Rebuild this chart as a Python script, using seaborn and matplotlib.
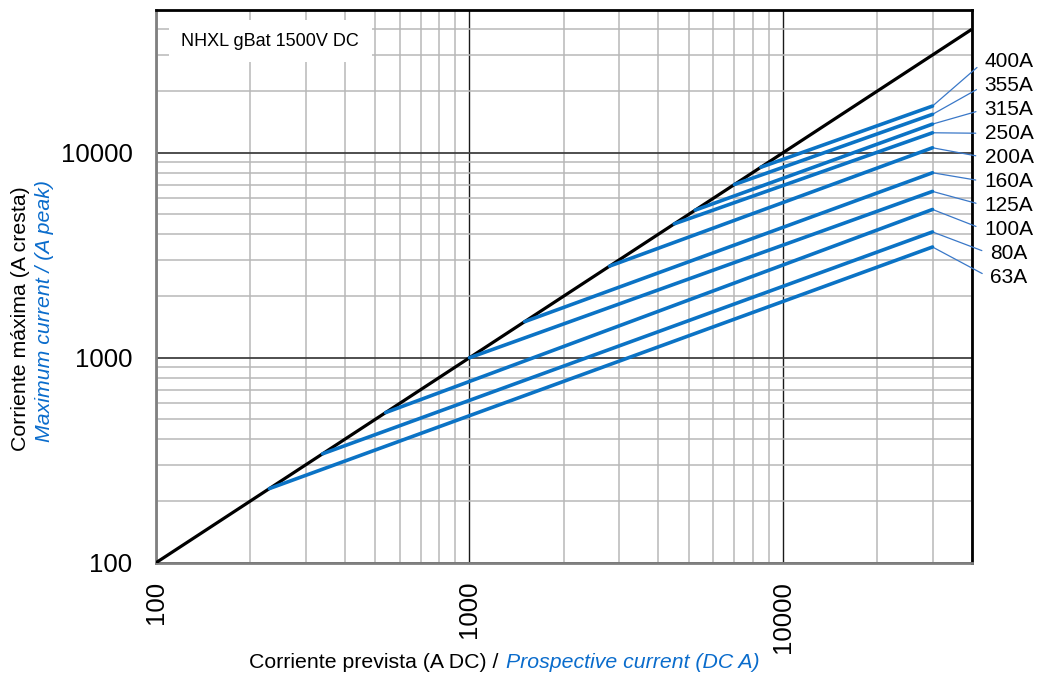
import matplotlib
matplotlib.use("Agg")
import matplotlib.pyplot as plt
import matplotlib.ticker as mticker
import pandas as pd
import seaborn as sns

sns.set_style("white")
plt.rcParams["font.family"] = ["Liberation Sans", "DejaVu Sans"]

# fuse ratings, curve start on the diagonal and cut-off peak at 30 kA
ratings = ["63A", "80A", "100A", "125A", "160A", "200A", "250A", "315A", "355A", "400A"]
start_current = [230, 340, 540, 1000, 1500, 2800, 4500, 5250, 7000, 8500]
end_current = [30000] * 10
end_peak = [3470, 4110, 5290, 6480, 7990, 10580, 12520, 13800, 15400, 16900]

diag_x = [100, 40000]
diag_y = [100, 40000]

major_ticks = [100, 1000, 10000]
title_text = "NHXL gBat 1500V DC"

BLUE = "#0b73c5"
TXT_BLUE = "#0a6ccc"

rows = []
for r, s, e, p in zip(ratings, start_current, end_current, end_peak):
    rows.append({"fuse": r, "prospective": s, "peak": s})
    rows.append({"fuse": r, "prospective": e, "peak": p})
df = pd.DataFrame(rows)

fig = plt.figure(figsize=(10.4, 6.84), dpi=100)
ax = fig.add_axes([0.15, 0.1773, 0.7843, 0.8088])
ax.set_xscale("log")
ax.set_yscale("log")
ax.set_xlim(100, 40000)
ax.set_ylim(100, 50000)

ax.plot(diag_x, diag_y, color="black", lw=2.3, solid_capstyle="butt", zorder=3)
sns.lineplot(data=df, x="prospective", y="peak", units="fuse", estimator=None,
             color=BLUE, lw=2.6, ax=ax, zorder=4, legend=False)

ax.xaxis.set_major_locator(mticker.FixedLocator(major_ticks))
ax.yaxis.set_major_locator(mticker.FixedLocator(major_ticks))
fmt = mticker.FuncFormatter(lambda v, _: f"{int(round(v))}")
ax.xaxis.set_major_formatter(fmt)
ax.yaxis.set_major_formatter(fmt)
ax.xaxis.set_minor_locator(mticker.LogLocator(base=10, subs=range(2, 10)))
ax.yaxis.set_minor_locator(mticker.LogLocator(base=10, subs=range(2, 10)))
ax.xaxis.set_minor_formatter(mticker.NullFormatter())
ax.yaxis.set_minor_formatter(mticker.NullFormatter())

ax.grid(which="minor", color="#b8b8b8", lw=1.1)
ax.xaxis.grid(which="major", color="#1a1a1a", lw=1.0)
ax.yaxis.grid(which="major", color="#404040", lw=1.3)
ax.set_axisbelow(True)

ax.tick_params(which="major", direction="out", length=6, width=1.2, color="#808080",
               labelsize=18.5, labelcolor="black")
ax.tick_params(axis="y", which="major", pad=11)
ax.tick_params(axis="x", which="major", pad=7, labelrotation=90)
ax.tick_params(which="minor", length=0)

for side in ("left", "bottom"):
    ax.spines[side].set_color("#808080")
    ax.spines[side].set_linewidth(2)
for side in ("top", "right"):
    ax.spines[side].set_color("black")
    ax.spines[side].set_linewidth(2)

ax.set_xlabel("")
ax.set_ylabel("")

ax.text(0.1398, 0.943, title_text, transform=ax.transAxes, ha="center", va="center",
        fontsize=13, color="black", zorder=6,
        bbox=dict(boxstyle="square,pad=0.7", facecolor="white", edgecolor="none"))

# labels on the right, top (400A) to bottom (63A)
step = 24.1 / 553.2
y0 = (562.7 - 61) / 553.2
for i, (r, e, p) in enumerate(zip(ratings[::-1], end_current[::-1], end_peak[::-1])):
    ax.annotate(r, xy=(e, p), xycoords="data", xytext=(1.0457, y0 - i * step),
                textcoords="axes fraction", ha="center", va="center", fontsize=15,
                color="black", annotation_clip=False,
                arrowprops=dict(arrowstyle="-", color="#3a78c8", lw=0.9,
                                relpos=(0, 0.5), shrinkA=4, shrinkB=0))

# axis titles (two languages, two colours)
fig.text(21 / 1040, 1 - 319 / 684, "Corriente máxima (A cresta)", rotation=90,
         ha="center", va="center", fontsize=15.3, color="black")
fig.text(45 / 1040, 1 - 311 / 684, "Maximum current / (A peak)", rotation=90,
         ha="center", va="center", fontsize=15.3, color=TXT_BLUE, style="italic")
fig.text(504 / 1040, 1 - 663 / 684, "Corriente prevista (A DC) / ", ha="right",
         va="center", fontsize=15.3, color="black")
fig.text(506 / 1040, 1 - 663 / 684, "Prospective current (DC A)", ha="left",
         va="center", fontsize=15.3, color=TXT_BLUE, style="italic")

fig.savefig("out.png", dpi=100)
